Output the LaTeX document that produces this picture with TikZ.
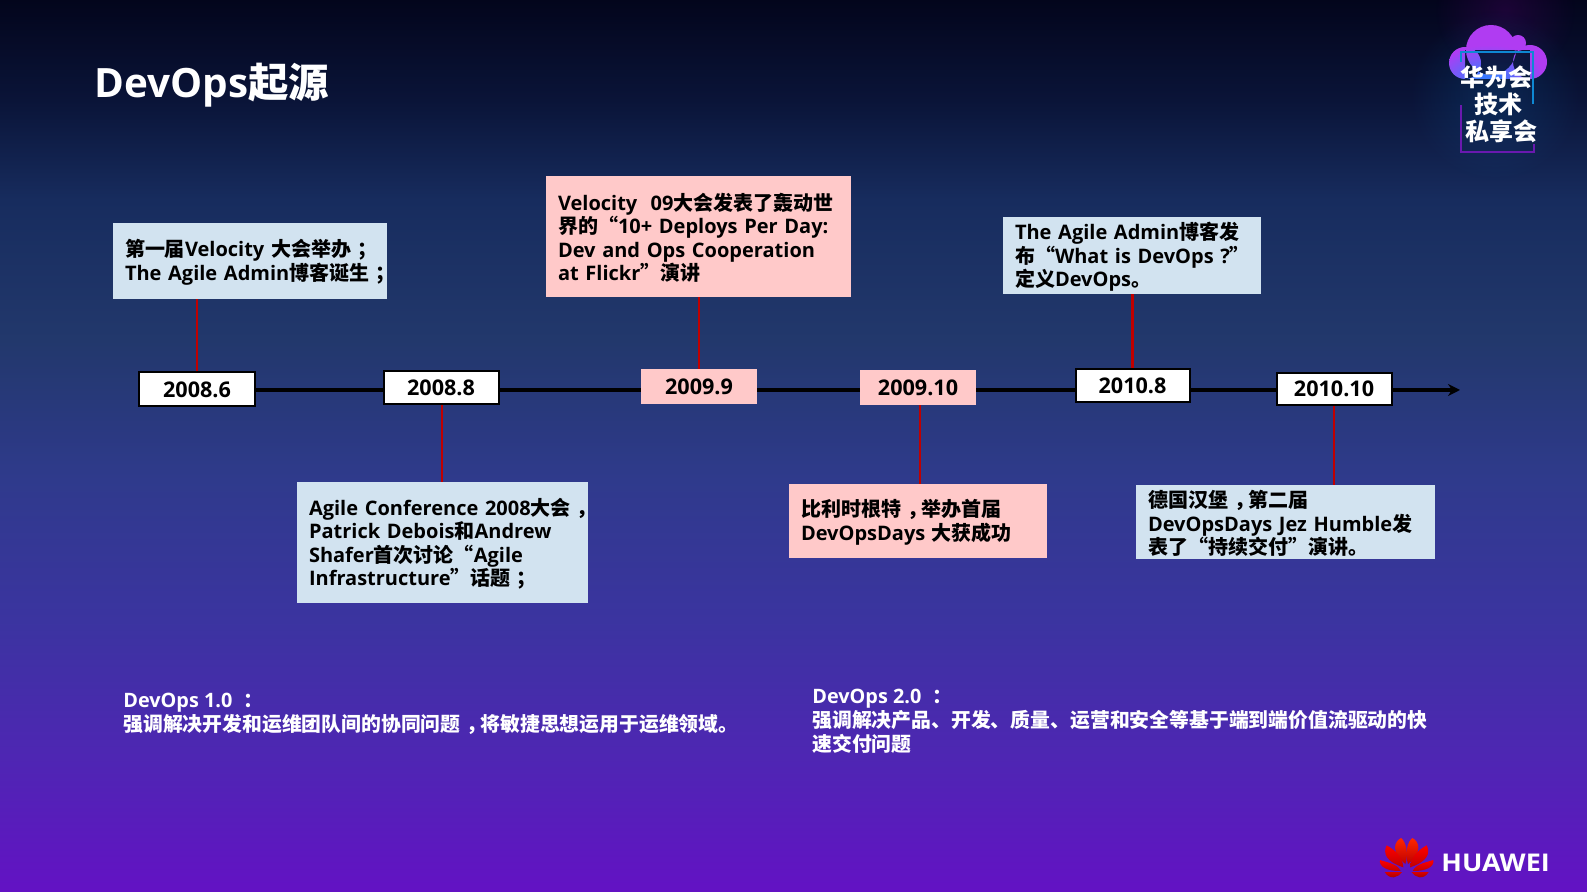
\documentclass[tikz,border=0pt]{standalone}
\usepackage{fontspec}
\setmainfont{Open Sans}
\newfontfamily\cjk{Noto Sans CJK SC}
\newcommand{\cj}[1]{{\cjk #1}}
\newcommand{\pc}[1]{\kern.3em#1\kern-.3em}
\usetikzlibrary{arrows.meta,fadings}
\definecolor{bgA}{HTML}{03051C}
\definecolor{bgB}{HTML}{0A1438}
\definecolor{bgC}{HTML}{172C5E}
\definecolor{bgD}{HTML}{22386C}
\definecolor{bgE}{HTML}{2F3A8C}
\definecolor{bgF}{HTML}{3B34A0}
\definecolor{bgG}{HTML}{4D27B2}
\definecolor{bgH}{HTML}{6312C4}
\definecolor{boxblue}{HTML}{D2E3F0}
\definecolor{boxpink}{HTML}{FFC9C9}
\definecolor{linkred}{HTML}{C00000}
\definecolor{cloudin}{HTML}{3A78FF}
\definecolor{cloudout}{HTML}{B03CF2}
\pgfdeclareverticalshading{bgshade}{100bp}{
 color(0bp)=(bgH); color(25bp)=(bgH); color(32.96bp)=(bgG); color(40.25bp)=(bgF);
 color(48.09bp)=(bgE); color(55.94bp)=(bgD); color(63.79bp)=(bgC); color(69.39bp)=(bgB);
 color(75bp)=(bgA); color(100bp)=(bgA)}
\pgfdeclareradialshading{cloudshade}{\pgfpoint{-6bp}{-28bp}}{
 color(0bp)=(cloudin); color(6bp)=(cloudin); color(27bp)=(cloudout); color(100bp)=(cloudout)}
\tikzfading[name=softglow,inner color=transparent!0,outer color=transparent!100]
\tikzset{
 fs/.style={font=\fontsize{#1}{#1}\selectfont\bfseries},
 note/.style n args={2}{draw=none,rectangle,inner xsep=6pt,inner ysep=0pt,outer sep=0pt,text=black,
   text width=0.5pt*#1-12pt,minimum width=0.5pt*#1,minimum height=0.5pt*#2,align=left,
   font=\fontsize{10}{11.75}\selectfont\bfseries,execute at begin node={\rule{0pt}{10pt}}},
 bluenote/.style 2 args={note={#1}{#2},fill=boxblue},
 pinknote/.style 2 args={note={#1}{#2},fill=boxpink},
 dateshape/.style 2 args={rectangle,inner sep=0pt,text=black,minimum width=0.5pt*#1,minimum height=0.5pt*#2,
   font=\fontsize{10.8}{12}\selectfont\bfseries},
 dateframe/.style 2 args={dateshape={#1}{#2},fill=white,draw=black,line width=1pt},
 datepink/.style 2 args={dateshape={#1}{#2},fill=boxpink},
 timeline/.style={draw=black,line width=1.8pt},
 link/.style={draw=linkred,line width=1.3pt},
 caption/.style={anchor=west,inner sep=0pt,align=left,text=white,font=\fontsize{9.92}{12.1}\selectfont\bfseries},
 petal/.style={top color=#1,bottom color=red!75!black,draw=none},
}
\begin{document}
\begin{tikzpicture}[x=0.5pt,y=-0.5pt]
\useasboundingbox (0,0) rectangle (1587,892);
\shade[shading=bgshade] (0,0) rectangle (1587,892);
% glow round the logo
\fill[purple!60!blue,opacity=.22,path fading=softglow] (1505,10) circle (70);
\fill[cyan!60!blue,opacity=.2,path fading=softglow] (1495,95) circle (85);
% title
\node[anchor=west,inner sep=0pt,text=white,fs=20.2] (title) at (94,85) {DevOps\cj{起源}};
% logo
\shade[shading=cloudshade] (1491,50) circle (25) (1465,63) circle (16) (1530,62) circle (17) (1518,43) circle (8)
  (1465,50) rectangle (1530,79);
\draw[cyan!70!blue,line width=1pt] (1461,62) -- (1461,52) -- (1533,52) -- (1533,104);
\draw[violet!70!blue!90!white,line width=1pt] (1461,105) -- (1461,152) -- (1534,152) -- (1534,144);
\node[text=white,inner sep=0pt,fs=12] (logoA) at (1496,77) {\cj{华为会}};
\node[text=white,inner sep=0pt,fs=12] (logoB) at (1498,104) {\cj{技术}};
\node[text=white,inner sep=0pt,fs=12] (logoC) at (1501,131) {\cj{私享会}};
% notes
\node[bluenote={274}{76}] (n1) at (250,261) {\mbox{\cj{第一届}Velocity \cj{大会举办\pc{；}}}\\\mbox{The Agile Admin\cj{博客诞生\pc{；}}}};
\node[bluenote={291}{121}] (n2) at (442.5,542.5) {\mbox{Agile Conference 2008\cj{大会\pc{，}}}\\\mbox{Patrick Debois\cj{和}Andrew}\\\mbox{Shafer\cj{首次讨论“}Agile}\\\mbox{Infrastructure\cj{”话题\pc{；}}}};
\node[pinknote={305}{121}] (n3) at (698.5,236.5) {\mbox{Velocity\ \ 09\cj{大会发表了轰动世}}\\\mbox{\cj{界的“}10+ Deploys Per Day:}\\\mbox{Dev and Ops Cooperation}\\\mbox{at Flickr\cj{”演讲}}};
\node[pinknote={258}{74}] (n4) at (918,521) {\mbox{\cj{比利时根特\pc{，}举办首届}}\\\mbox{DevOpsDays \cj{大获成功}}};
\node[bluenote={258}{77}] (n5) at (1132,255.5) {\mbox{The Agile Admin\cj{博客发}}\\\mbox{\cj{布“}What is DevOps ?\cj{”}}\\\mbox{\cj{定义}DevOps\cj{。}}};
\node[bluenote={299}{74}] (n6) at (1285.5,522) {\mbox{\cj{德国汉堡\pc{，}第二届}}\\\mbox{DevOpsDays Jez Humble\cj{发}}\\\mbox{\cj{表了“持续交付”演讲。}}};
% dates
\node[dateframe={116}{34}] (d1) at (197,389.5) {2008.6};
\node[dateframe={115}{33}] (d2) at (441,388) {2008.8};
\node[datepink={116}{35}] (d3) at (699,386.5) {2009.9};
\node[datepink={116}{35}] (d4) at (918,387.5) {2009.10};
\node[dateframe={114}{33}] (d5) at (1132.5,385.5) {2010.8};
\node[dateframe={115}{32}] (d6) at (1334,389) {2010.10};
% timeline
\coordinate (tl) at (0,390);
\coordinate (tlend) at (1460,390);
\draw[timeline] (d1.east |- tl) -- (d2.west |- tl);
\draw[timeline] (d2.east |- tl) -- (d3.west |- tl);
\draw[timeline] (d3.east |- tl) -- (d4.west |- tl);
\draw[timeline] (d4.east |- tl) -- (d5.west |- tl);
\draw[timeline] (d5.east |- tl) -- (d6.west |- tl);
\draw[timeline,-{Stealth[length=6pt,width=6pt]}] (d6.east |- tl) -- (tlend);
% links
\draw[link] (d1.north) -- (d1.north |- n1.south);
\draw[link] ([xshift=0.5pt]d2.south) -- ([xshift=0.5pt]d2.south |- n2.north);
\draw[link] (d3.north) -- (d3.north |- n3.south);
\draw[link] ([xshift=1pt]d4.south) -- ([xshift=1pt]d4.south |- n4.north);
\draw[link] (d5.north) -- (d5.north |- n5.south);
\draw[link] (d6.south) -- (d6.south |- n6.north);
% captions
\node[caption] (c1) at (123,714) {DevOps 1.0 \cj{\pc{：}}\\\cj{强调解决开发和运维团队间的协同问题\pc{，}将敏捷思想运用于运维领域。}};
\node[caption] (c2) at (812,721) {DevOps 2.0 \cj{\pc{：}}\\\cj{强调解决产品、开发、质量、运营和安全等基于端到端价值流驱动的快}\\\cj{速交付问题}};
% huawei logo
\begin{scope}[shift={(1340,800)},x=0.1667pt,y=-0.1667pt]
 \foreach \m in {1,-1}{
 \begin{scope}[shift={(200,0)},xscale=\m]
  \shade[petal=red!70!orange] (-4,192) .. controls (-48,155) and (-38,125) .. (-17,114) .. controls (-2,125) and (6,160) .. (-4,192) -- cycle;
  \shade[petal=red] (-10,202) .. controls (-62,185) and (-72,160) .. (-60,136) .. controls (-35,150) and (-12,170) .. (-10,202) -- cycle;
  \shade[petal=red] (-18,213) .. controls (-58,214) and (-84,200) .. (-80,180) .. controls (-55,188) and (-28,192) .. (-18,213) -- cycle;
  \shade[top color=red!85!black,bottom color=red!55!black,draw=none] (-66,216) -- (-14,216) .. controls (-25,232) and (-50,242) .. (-66,216) -- cycle;
 \end{scope}}
\end{scope}
\node[anchor=west,inner sep=0pt,text=white,fs=12.2] (hw) at (1441,863) {\scalebox{1.105}[1]{HUAWEI}};
\end{tikzpicture}
\end{document}
